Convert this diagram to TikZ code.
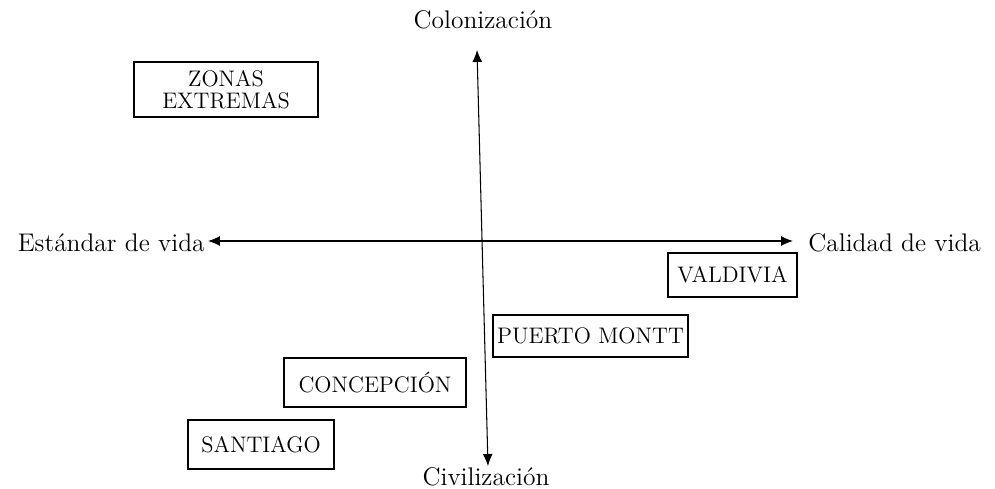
\documentclass[tikz,border=0pt]{standalone}
\usepackage{tikz}
\usetikzlibrary{arrows.meta}

\begin{document}
\begin{tikzpicture}[x=0.02cm, y=-0.02cm]
    \useasboundingbox (0,0) rectangle (995,489);

    \tikzset{city/.style={rectangle, draw, thick, align=center, inner sep=1pt, font=\fontsize{12.8}{14.5}\selectfont}}
    \tikzset{axislabel/.style={inner sep=0pt, font=\fontsize{14.5}{17}\selectfont}}
    \tikzset{axis/.style={{Latex[length=2.4mm,width=2mm]}-{Latex[length=2.4mm,width=2mm]}, semithick}}

    \node at (483,20) [axislabel] (Colonizacion) {Colonización};
    \node at (486,477) [axislabel] (Civilizacion) {Civilización};
    \node at (205,243) [axislabel, anchor=east] (Estandar) {Estándar de vida};
    \node at (808,243) [axislabel, anchor=west] (Calidad) {Calidad de vida};

    \coordinate (Top) at (477,50);
    \coordinate (Bottom) at (488,466);
    \coordinate (Left) at (208,241);
    \coordinate (Right) at (793,241);

    \draw[axis] (Left) -- (Right);
    \draw[axis] (Top) -- (Bottom);

    \node at (226,89.5) [city, minimum width=3.68cm, minimum height=1.1cm] (Zonas) {ZONAS\\[-2pt]EXTREMAS};
    \node at (732.5,275) [city, minimum width=2.58cm, minimum height=0.88cm] (Valdivia) {VALDIVIA};
    \node at (590.5,336) [city, minimum width=3.9cm, minimum height=0.84cm] (PuertoMontt) {PUERTO MONTT};
    \node at (375,382.5) [city, minimum width=3.64cm, minimum height=0.98cm] (Concepcion) {CONCEPCIÓN};
    \node at (261,444.5) [city, minimum width=2.92cm, minimum height=0.98cm] (Santiago) {SANTIAGO};
\end{tikzpicture}
\end{document}
